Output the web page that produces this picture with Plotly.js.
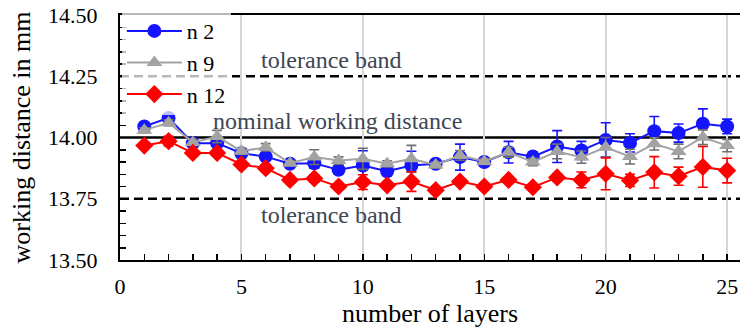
<!DOCTYPE html>
<html>
<head>
<meta charset="utf-8">
<script src="https://cdn.plot.ly/plotly-3.0.1.min.js"></script>
<style>
html,body{margin:0;padding:0;background:#fff;}
#chart{width:740px;height:328px;}
</style>
</head>
<body>
<div id="chart"></div>
<script>
const layers = [1,2,3,4,5,6,7,8,9,10,11,12,13,14,15,16,17,18,19,20,21,22,23,24,25];

const n2Values = [14.045,14.08,13.977,13.977,13.936,13.922,13.893,13.895,13.868,13.886,13.862,13.886,13.893,13.92,13.9,13.94,13.922,13.963,13.947,13.99,13.978,14.026,14.018,14.056,14.045];
const n2Err    = [0.012,0.015,0.01,0.012,0.01,0.012,0.01,0.02,0.015,0.06,0.015,0.058,0.01,0.053,0.015,0.044,0.02,0.065,0.037,0.07,0.037,0.06,0.037,0.061,0.03];

const n9Values = [14.03,14.06,13.98,14.004,13.944,13.96,13.895,13.92,13.906,13.913,13.893,13.913,13.888,13.927,13.902,13.94,13.9,13.943,13.92,13.96,13.922,13.974,13.943,14.001,13.967];
const n9Err    = [0.01,0.012,0.012,0.025,0.012,0.015,0.01,0.03,0.015,0.043,0.012,0.055,0.012,0.02,0.012,0.02,0.015,0.03,0.025,0.04,0.03,0.025,0.03,0.03,0.025];

const n12Values = [13.967,13.985,13.937,13.937,13.89,13.875,13.827,13.833,13.8,13.818,13.805,13.82,13.785,13.82,13.8,13.827,13.797,13.837,13.827,13.852,13.825,13.858,13.842,13.88,13.865];
const n12Err    = [0.01,0.02,0.01,0.012,0.01,0.015,0.01,0.015,0.01,0.03,0.012,0.04,0.01,0.012,0.01,0.012,0.01,0.015,0.032,0.065,0.025,0.064,0.037,0.083,0.05];

const seriesNames = ["n 2","n 9","n 12"];
const tolUpper = 14.25, nominal = 14.00, tolLower = 13.75;
const yTicks = [13.50,13.75,14.00,14.25,14.50];
const xTicks = [0,5,10,15,20,25];

function makeSeries(name, y, err, color, errColor, symbol){
  return {
    x: layers, y: y, name: name, type: 'scatter', mode: 'lines+markers',
    line: {color: color, width: 2},
    marker: {color: color, symbol: symbol, size: 14},
    error_y: {type: 'data', array: err, visible: true, color: errColor, thickness: 1.6, width: 5}
  };
}

const traces = [
  makeSeries(seriesNames[0], n2Values, n2Err, '#1414ff', '#1414ff', 'circle'),
  makeSeries(seriesNames[1], n9Values, n9Err, '#a3a3a3', '#6e6e6e', 'triangle-up'),
  makeSeries(seriesNames[2], n12Values, n12Err, '#ff0000', '#ff0000', 'diamond')
];

function hline(y, dash){
  return {type:'line', xref:'paper', x0:0, x1:1, yref:'y', y0:y, y1:y,
          line:{color:'#000', width:2.5, dash:dash}, layer:'below'};
}

const annColor = '#3d4654';
const chartLayout = {
  width: 740, height: 328,
  margin: {l:120, r:0, t:15, b:68},
  font: {family: 'Liberation Serif', size: 22, color: '#000'},
  showlegend: true,
  legend: {x: 0.003, y: 1.02, xanchor: 'left', yanchor: 'top',
           bgcolor: 'rgba(255,255,255,0.72)', itemwidth: 55},
  xaxis: {
    range: [0, 25.53], tickvals: xTicks,
    showgrid: true, gridcolor: '#d6d6d6', gridwidth: 2,
    showline: true, linecolor: '#000', linewidth: 2, mirror: true,
    ticks: 'inside', ticklen: 6, tickcolor: '#000', tickwidth: 1.5,
    minor: {dtick: 1, tick0: 0, ticks: 'inside', ticklen: 6, tickcolor: '#000', tickwidth: 1.5, showgrid: false},
    zeroline: false, ticklabelstandoff: 6,
    title: {text: 'number of layers', standoff: 0}
  },
  yaxis: {
    range: [13.5, 14.5], tickvals: yTicks, tickformat: '.2f',
    showgrid: false,
    showline: true, linecolor: '#000', linewidth: 2, mirror: true,
    ticks: 'inside', ticklen: 6, tickcolor: '#000', tickwidth: 1.5,
    minor: {dtick: 0.05, tick0: 13.5, ticks: 'inside', ticklen: 6, tickcolor: '#000', tickwidth: 1.5, showgrid: false},
    zeroline: false, ticklabelstandoff: 16,
    title: {text: 'working distance in mm', standoff: 10}
  },
  shapes: [
    hline(tolUpper, '9px,5px'),
    hline(nominal, 'solid'),
    hline(tolLower, '9px,5px')
  ],
  annotations: [
    {x: 8.7, y: 14.316, xref:'x', yref:'y', text:'tolerance band', showarrow:false,
     font:{size: 24, color: annColor}},
    {x: 8.94, y: 14.067, xref:'x', yref:'y', text:'nominal working distance', showarrow:false,
     font:{size: 24, color: annColor}},
    {x: 8.7, y: 13.684, xref:'x', yref:'y', text:'tolerance band', showarrow:false,
     font:{size: 24, color: annColor}}
  ]
};

Plotly.newPlot('chart', traces, chartLayout, {staticPlot: true});
</script>
</body>
</html>
